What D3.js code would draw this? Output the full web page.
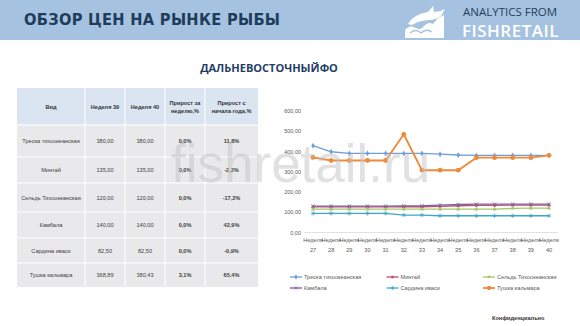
<!DOCTYPE html>
<html><head><meta charset="utf-8">
<script src="https://cdn.jsdelivr.net/npm/d3@7"></script>
<style>
html,body{margin:0;padding:0;background:#fff;}
svg{display:block;font-family:"Liberation Sans",Arial,sans-serif;}
</style></head>
<body>
<svg id="c" width="580" height="326"></svg>
<script>
// ---- data ----
const weeks = ["27","28","29","30","31","32","33","34","35","36","37","38","39","40"];
const codValues     = [428,398,390,390,390,390,390,386,382,380,380,380,380,380];
const pollockValues = [126,126,126,126,126,127,127,129,132,134,134,135,135,135];
const herringValues = [115,115,115,115,115,115,115,115,115,115,115,119,120,120];
const flounderValues= [130,130,130,130,130,131,132,135,138,140,140,140,140,140];
const sardineValues = [94,94,94,94,94,86,86,82.5,82.5,82.5,82.5,82.5,82.5,82.5];
const squidValues   = [370,355,355,355,355,484,307,307,307,369,369,369,368.89,380.43];
const seriesNames = ["Треска тихоокеанская","Минтай","Сельдь Тихоокеанская","Камбала","Сардина иваси","Тушка кальмара"];
const yTicks = [0,100,200,300,400,500,600];

const tableHeader = ["Вид","Неделя 39","Неделя 40","Прирост за|неделю,%","Прирост с|начала года,%"];
const tableNames = ["Треска тихоокеанская","Минтай","Сельдь Тихоокеанская","Камбала","Сардина иваси","Тушка кальмара"];
const week39 = ["380,00","135,00","120,00","140,00","82,50","368,89"];
const week40 = ["380,00","135,00","120,00","140,00","82,50","380,43"];
const weekGrowth = ["0,0%","0,0%","0,0%","0,0%","0,0%","3,1%"];
const yearGrowth = ["11,8%","-2,2%","-17,2%","42,9%","-0,9%","65,4%"];

const svg = d3.select("#c");

// ---- header band ----
svg.append("rect").attr("x",0).attr("y",0).attr("width",580).attr("height",40).attr("fill","#a5c3e0");
svg.append("text").attr("x",24).attr("y",25).attr("font-size",16.3).attr("font-weight","bold")
  .attr("fill","#1f3c5c").attr("letter-spacing",0.3).attr("font-family","'DejaVu Sans Condensed','DejaVu Sans',sans-serif")
  .text("ОБЗОР ЦЕН НА РЫНКЕ РЫБЫ");
// logo
const lg = svg.append("g").attr("fill","#fff");
lg.append("path").attr("d","M405,38 L405,30 Q410,24 416,28 Q421,31 424,26 Q428,21 433,24 L438,18 L444,15 L444,38 Z");
lg.append("path").attr("d","M408,24 Q414,14 428,12 L433,6 L434,12 Q440,12 445,9 L441,16 Q436,20 428,20 Q418,21 412,25 Z");
lg.append("path").attr("d","M410,33 Q416,28 421,33 Q426,28 432,32").attr("fill","none").attr("stroke","#a5c3e0").attr("stroke-width",1.5);
svg.append("text").attr("x",463).attr("y",16).attr("font-size",11.5).attr("fill","#24405e")
  .attr("font-family","'Open Sans',sans-serif").text("ANALYTICS FROM");
svg.append("text").attr("x",462).attr("y",36.5).attr("font-size",17).attr("fill","#fff").attr("font-weight","600")
  .attr("font-family","'Open Sans',sans-serif").attr("letter-spacing",0.5).text("FISHRETAIL");

// subtitle
svg.append("text").attr("x",269).attr("y",72).attr("text-anchor","middle").attr("font-size",11).attr("font-weight","bold")
  .attr("fill","#1f3d66").attr("font-family","'Open Sans',sans-serif").text("ДАЛЬНЕВОСТОЧНЫЙФО");

// watermark (behind table text)
const wm = svg.append("g");

// ---- table ----
const colX = [17,85,125,165,205,258];
const rowY = [88,125,157,183,212,238,263,287];
const tg = svg.append("g").attr("font-family","'Liberation Sans',Arial,sans-serif").attr("font-size",5.6).attr("fill","#404040");
for (let c=0;c<5;c++){
  tg.append("rect").attr("x",colX[c]).attr("y",rowY[0]).attr("width",colX[c+1]-colX[c]).attr("height",rowY[1]-rowY[0]).attr("fill","#dae5f1");
  for (let r=1;r<7;r++){
    tg.append("rect").attr("x",colX[c]).attr("y",rowY[r]).attr("width",colX[c+1]-colX[c]).attr("height",rowY[r+1]-rowY[r]).attr("fill","#e9e9eb");
  }
}
for (let c=1;c<5;c++) tg.append("line").attr("x1",colX[c]).attr("x2",colX[c]).attr("y1",rowY[0]).attr("y2",rowY[7]).attr("stroke","#fff").attr("stroke-width",1);
for (let r=1;r<7;r++) tg.append("line").attr("x1",colX[0]).attr("x2",colX[5]).attr("y1",rowY[r]).attr("y2",rowY[r]).attr("stroke","#fff").attr("stroke-width",1.2);
tableHeader.forEach((h,c)=>{
  const cx=(colX[c]+colX[c+1])/2;
  const parts=h.split("|");
  const cy=(rowY[0]+rowY[1])/2;
  parts.forEach((p,i)=>{
    tg.append("text").attr("x",cx).attr("y",cy+2+(i-(parts.length-1)/2)*8).attr("text-anchor","middle")
      .attr("font-weight","bold").attr("fill","#333").text(p);
  });
});
const cols=[tableNames,week39,week40,weekGrowth,yearGrowth];
for (let r=0;r<6;r++){
  const cy=(rowY[r+1]+rowY[r+2])/2+2;
  cols.forEach((col,c)=>{
    tg.append("text").attr("x",(colX[c]+colX[c+1])/2).attr("y",cy).attr("text-anchor","middle")
      .attr("font-weight",c>=3?"bold":"normal").text(col[r]);
  });
}

// ---- chart ----
const x = d3.scalePoint().domain(weeks).range([313,549]);
const y = d3.scaleLinear().domain([0,600]).range([232.5,110.8]);

const yAxis = svg.append("g").attr("transform","translate(301,0)")
  .call(d3.axisLeft(y).tickValues(yTicks).tickSize(0).tickPadding(0).tickFormat(d=>d3.format(".2f")(d).replace(".",",")));
yAxis.select(".domain").remove();
yAxis.selectAll("text").attr("font-size",5.5).attr("fill","#595959").attr("font-family","'Liberation Sans',Arial,sans-serif");

svg.append("line").attr("x1",304).attr("x2",558).attr("y1",y(0)).attr("y2",y(0)).attr("stroke","#d9d9d9").attr("stroke-width",0.8);
const xl = svg.append("g").attr("font-size",5.6).attr("fill","#595959").attr("font-family","'Liberation Sans',Arial,sans-serif");
weeks.forEach(w=>{
  xl.append("text").attr("x",x(w)).attr("y",241.5).attr("text-anchor","middle").text("Неделя");
  xl.append("text").attr("x",x(w)).attr("y",251.5).attr("text-anchor","middle").text(w);
});

const series = [
  {name:seriesNames[0], values:codValues, color:"#6f9fd6", sym:d3.symbolDiamond, size:10, w:1.3},
  {name:seriesNames[1], values:pollockValues, color:"#c0506a", sym:d3.symbolSquare, size:8, w:1.3},
  {name:seriesNames[2], values:herringValues, color:"#a8c66c", sym:d3.symbolTriangle, size:8, w:1.3},
  {name:seriesNames[3], values:flounderValues, color:"#8064a2", sym:d3.symbolX, size:10, w:1.3},
  {name:seriesNames[4], values:sardineValues, color:"#3fa6c6", sym:d3.symbolAsterisk, size:12, w:1.3},
  {name:seriesNames[5], values:squidValues, color:"#ee8a3a", sym:d3.symbolCircle, size:18, w:1.8}
];
const line = d3.line().x((d,i)=>x(weeks[i])).y(d=>y(d));
series.forEach(s=>{
  svg.append("path").attr("d",line(s.values)).attr("fill","none").attr("stroke",s.color).attr("stroke-width",s.w);
  const stroky = (s.sym===d3.symbolX || s.sym===d3.symbolAsterisk);
  svg.append("g").selectAll("path").data(s.values).join("path")
    .attr("transform",(d,i)=>`translate(${x(weeks[i])},${y(d)})`)
    .attr("d",d3.symbol().type(s.sym).size(s.size))
    .attr("fill",stroky?"none":s.color).attr("stroke",stroky?s.color:"none").attr("stroke-width",0.8);
});

// legend
const legX=[290,386.5,483], legY=[277,288];
const leg = svg.append("g").attr("font-size",5.6).attr("fill","#595959").attr("font-family","'Liberation Sans',Arial,sans-serif");
series.forEach((s,i)=>{
  const lx=legX[i%3], ly=legY[Math.floor(i/3)];
  leg.append("line").attr("x1",lx).attr("x2",lx+12).attr("y1",ly).attr("y2",ly).attr("stroke",s.color).attr("stroke-width",s.w);
  const stroky = (s.sym===d3.symbolX || s.sym===d3.symbolAsterisk);
  leg.append("path").attr("transform",`translate(${lx+6},${ly})`).attr("d",d3.symbol().type(s.sym).size(s.size*0.8))
    .attr("fill",stroky?"none":s.color).attr("stroke",stroky?s.color:"none").attr("stroke-width",0.8);
  leg.append("text").attr("x",lx+14).attr("y",ly+2).text(s.name);
});

svg.append("text").attr("x",492).attr("y",320).attr("font-size",5.6).attr("font-weight","bold").attr("fill","#333")
  .attr("font-family","'Liberation Sans',Arial,sans-serif").text("Конфиденциально");

// watermark on top, semi-transparent as in the reference
svg.append("text").attr("x",171).attr("y",182).attr("font-size",53).attr("fill","#c4c4c4").attr("fill-opacity",0.5)
  .attr("font-family","'Liberation Sans',Arial,sans-serif").text("fishretail.ru");
</script>
</body></html>
